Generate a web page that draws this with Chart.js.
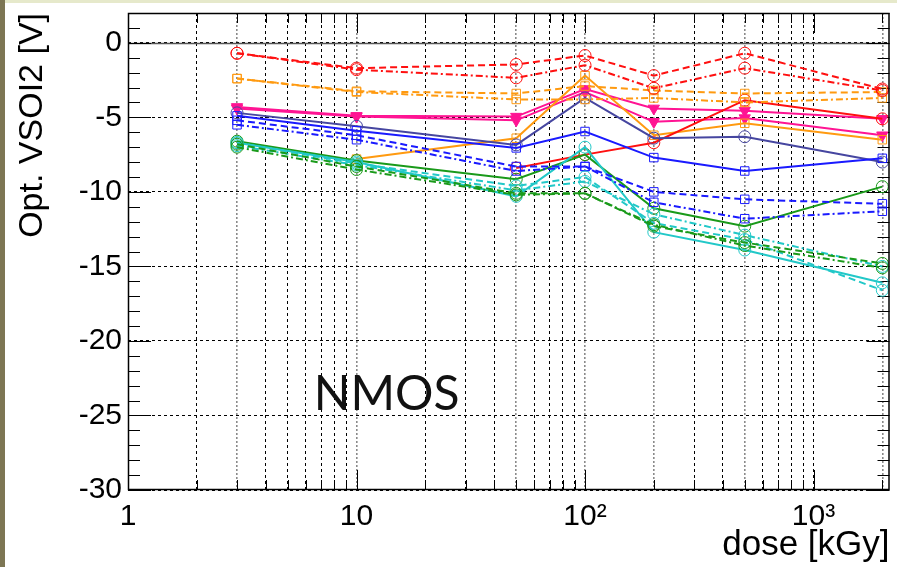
<!DOCTYPE html>
<html>
<head>
<meta charset="utf-8">
<script src="https://cdn.jsdelivr.net/npm/chart.js@4.4.1/dist/chart.umd.min.js"></script>
<style>
html,body{margin:0;padding:0;background:#fff;}
#wrap{width:897px;height:567px;}
</style>
</head>
<body>
<div id="wrap"><canvas id="c" width="897" height="567"></canvas></div>
<script>

// dose points [kGy]
const xDose = [3, 10, 50, 100, 200, 500, 2000]

const redDash      = [-0.7, -1.7, -1.45, -0.85, -2.2, -0.7, -3.1]
const redDashDot   = [-0.7, -1.8, -2.35, -1.5, -3.05, -1.7, -3.2]
const redSolid     = [null, null, -8.4, -7.5, -6.7, -3.85, -5.1]
const orangeDash   = [-2.4, -3.25, -3.4, -2.9, -3.2, -3.4, -3.3]
const orangeDashDot= [-2.4, -3.3, -3.8, -3.8, -3.7, -4.0, -3.7]
const orangeSolid  = [null, -7.8, -6.4, -2.2, -6.2, -5.4, -6.5]
const pinkA        = [-4.3, -4.9, -4.95, -3.1, -4.4, -4.55, -5.1]
const pinkB        = [-4.4, -4.95, -5.2, -3.3, -5.3, -5.05, -6.2]
const navySolid    = [-4.7, -5.6, -6.85, -3.7, -6.4, -6.3, -8.0]
const blueSolid    = [-4.9, -5.9, -7.05, -5.95, -7.7, -8.6, -7.75]
const blueDash     = [-5.2, -6.2, -8.3, -8.3, -10.0, -10.5, -10.8]
const blueDashDot  = [-5.5, -6.5, -8.6, -8.3, -10.7, -11.8, -11.3]
const greenSolid   = [-6.6, -7.9, -9.15, -7.5, -11.1, -12.3, -9.65]
const greenDash    = [-6.8, -8.3, -10.1, -10.1, -12.3, -13.4, -14.8]
const greenDashDot = [-7.0, -8.5, -10.2, -10.1, -12.2, -13.6, -15.1]
const cyanSolid    = [-6.7, -8.0, -10.3, -7.0, -12.7, -13.9, -16.1]
const cyanDash     = [-6.7, -8.1, -9.6, -9.0, -12.1, -13.2, -16.6]
const cyanDashDot  = [-6.9, -8.2, -9.9, -9.3, -11.5, -12.9, -15.0]

const xTickValues = [1,2,3,4,5,6,7,8,9,10,20,30,40,50,60,70,80,90,100,200,300,400,500,600,700,800,900,1000,2000]
const xTickLabels = { 1:'1', 10:'10', 100:'10²', 1000:'10³' }
const yTickValues = [-30, -25, -20, -15, -10, -5, 0]

const xTitle = 'dose [kGy]'
const yTitle = 'Opt. VSOI2 [V]'
const note = { text:'NMOS', x:6.5, y:-24.6 }


const SOLID = []
const DASH = [7, 4]
const DASHDOT = [7, 3, 2, 3]

const RED = '#ff1010'
const ORANGE = '#ff9a10'
const PINK = '#ff1493'
const NAVY = '#4646a0'
const BLUE = '#1a1aff'
const GREEN = '#1a9a1a'
const CYAN = '#22c8c8'

function series(data, color, dash, marker){
	const tri = marker === 'tri'
	return {
		data:data.map((v, i) => ({ x:xDose[i], y:v })),
		borderColor:color,
		backgroundColor:color,
		borderWidth:2,
		borderDash:dash,
		pointStyle:tri ? 'triangle' : marker,
		pointRotation:tri ? 180 : 0,
		pointRadius:tri ? 6.5 : 6,
		pointBorderWidth:1,
		pointBackgroundColor:tri ? color : 'rgba(255,255,255,0)',
		pointBorderColor:color,
		tension:0
	}
}

const datasets = [
	series(redDash, RED, DASH, 'circle'),
	series(redDashDot, RED, DASHDOT, 'circle'),
	series(orangeDash, ORANGE, DASH, 'rect'),
	series(orangeDashDot, ORANGE, DASHDOT, 'rect'),
	series(greenDash, GREEN, DASH, 'circle'),
	series(greenDashDot, GREEN, DASHDOT, 'circle'),
	series(cyanDash, CYAN, DASH, 'circle'),
	series(cyanDashDot, CYAN, DASHDOT, 'circle'),
	series(blueDash, BLUE, DASH, 'rect'),
	series(blueDashDot, BLUE, DASHDOT, 'rect'),
	series(cyanSolid, CYAN, SOLID, 'circle'),
	series(greenSolid, GREEN, SOLID, 'circle'),
	series(blueSolid, BLUE, SOLID, 'rect'),
	series(navySolid, NAVY, SOLID, 'circle'),
	series(redSolid, RED, SOLID, 'circle'),
	series(orangeSolid, ORANGE, SOLID, 'rect'),
	series(pinkB, PINK, SOLID, 'tri'),
	series(pinkA, PINK, SOLID, 'tri')
]

const isDose = v => xDose.includes(v)

const framePlugin = {
	id:'frame',
	beforeDraw(chart){
		const { ctx, width, height } = chart
		ctx.save()
		ctx.fillStyle = '#fff'
		ctx.fillRect(0, 0, width, height)
		ctx.fillStyle = '#7d7654'
		ctx.fillRect(0, 0, 5, height)
		ctx.fillStyle = '#e6e9cb'
		ctx.fillRect(5, 0, width - 5, 3)
		ctx.restore()
	},
	beforeDatasetsDraw(chart){
		const { ctx, chartArea:a, scales:{ x, y } } = chart
		ctx.save()
		// zero line
		const y0 = Math.round(y.getPixelForValue(0)) + 0.5
		ctx.strokeStyle = '#555'
		ctx.lineWidth = 1.5
		ctx.beginPath()
		ctx.moveTo(a.left, y0)
		ctx.lineTo(a.right, y0)
		ctx.stroke()
		// ticks
		ctx.strokeStyle = '#000'
		ctx.lineWidth = 1
		ctx.beginPath()
		for(let v = -30; v <= 2; v++){
			const p = Math.round(y.getPixelForValue(v)) + 0.5
			const len = v % 5 === 0 ? 23 : 12
			ctx.moveTo(a.left, p); ctx.lineTo(a.left + len, p)
			ctx.moveTo(a.right, p); ctx.lineTo(a.right - len, p)
		}
		for(const v of xTickValues){
			const p = Math.round(x.getPixelForValue(v)) + 0.5
			const len = xTickLabels[v] ? 20 : 10
			ctx.moveTo(p, a.bottom); ctx.lineTo(p, a.bottom - len)
			ctx.moveTo(p, a.top); ctx.lineTo(p, a.top + len)
		}
		ctx.stroke()
		ctx.restore()
	},
	afterDatasetsDraw(chart){
		const { ctx, chartArea:a, scales:{ x, y } } = chart
		ctx.save()
		ctx.strokeStyle = '#000'
		ctx.lineWidth = 1.5
		ctx.strokeRect(a.left + 0.5, a.top + 0.5, a.right - a.left - 1, a.bottom - a.top - 1)
		ctx.fillStyle = '#111'
		ctx.font = '48px Lato'
		ctx.textAlign = 'left'
		ctx.textBaseline = 'alphabetic'
		ctx.fillText(note.text, x.getPixelForValue(note.x), y.getPixelForValue(note.y))
		ctx.restore()
	}
}

new Chart(document.getElementById('c'), {
	type:'line',
	data:{ datasets },
	plugins:[framePlugin],
	options:{
		responsive:false,
		animation:false,
		layout:{ padding:{ top:13, right:7, left:0, bottom:0 } },
		plugins:{ legend:{ display:false }, tooltip:{ enabled:false } },
		scales:{
			x:{
				type:'logarithmic',
				min:1,
				max:2150,
				afterBuildTicks:scale => { scale.ticks = xTickValues.map(v => ({ value:v, major:!!xTickLabels[v] })) },
				afterFit:scale => { scale.height = 77; scale.paddingLeft = 0; scale.paddingRight = 0 },
				ticks:{
					autoSkip:false,
					maxRotation:0,
					padding:9,
					color:'#000',
					font:{ family:'Liberation Sans, Arial', size:30 },
					callback:v => xTickLabels[v] || ''
				},
				grid:{
					drawTicks:false,
					color:c => c.tick && isDose(c.tick.value) ? '#8a8a8a' : '#000',
					lineWidth:c => c.tick && isDose(c.tick.value) ? 1.6 : 1
				},
				border:{
					display:false,
					dash:c => c.tick && isDose(c.tick.value) ? [2, 2] : [3, 3]
				},
				title:{
					display:true,
					text:xTitle,
					align:'end',
					color:'#000',
					padding:{ top:0, bottom:1 },
					font:{ family:'Liberation Sans, Arial', size:35 }
				}
			},
			y:{
				type:'linear',
				min:-30,
				max:2,
				afterBuildTicks:scale => { scale.ticks = yTickValues.map(v => ({ value:v })) },
				afterFit:scale => { scale.width = 128; scale.paddingTop = 0; scale.paddingBottom = 0 },
				ticks:{
					padding:6,
					color:'#000',
					font:{ family:'Liberation Sans, Arial', size:30 }
				},
				grid:{
					drawTicks:false,
					color:'#000',
					lineWidth:1
				},
				border:{ display:false, dash:[3, 3] },
				title:{
					display:true,
					text:yTitle,
					align:'end',
					color:'#000',
					padding:{ top:12, bottom:0 },
					font:{ family:'Liberation Sans, Arial', size:34 }
				}
			}
		}
	}
})
</script>
</body>
</html>
